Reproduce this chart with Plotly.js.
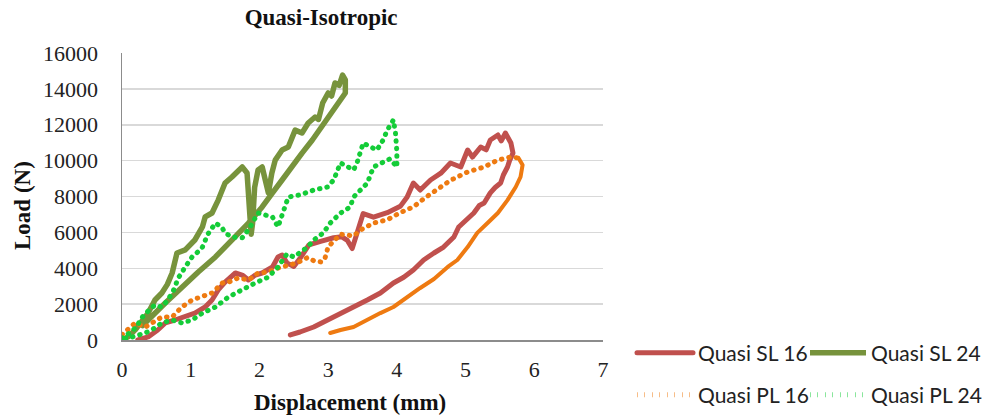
<!DOCTYPE html>
<html>
<head>
<meta charset="utf-8">
<script src="https://cdn.plot.ly/plotly-3.0.1.min.js"></script>
<style>
html,body{margin:0;padding:0;background:#fff;}
#chart{width:988px;height:416px;}
.scatterlayer .js-line, .legend .js-line {stroke-linecap: round; stroke-linejoin: round;}
</style>
</head>
<body>
<div id="chart"></div>
<script>
// Quasi SL 16 (loading + unloading)
const sl16X = [0.23,0.38,0.52,0.63,0.77,0.92,1.06,1.21,1.31,1.40,1.50,1.65,1.75,1.84,1.94,2.04,2.19,2.27,2.33,2.40,2.50,2.60,2.72,2.89,3.08,3.20,3.28,3.35,3.45,3.51,3.66,3.76,3.86,4.05,4.15,4.24,4.34,4.49,4.64,4.78,4.93,5.03,5.10,5.22,5.30,5.36,5.47,5.52,5.58,5.66,5.69,5.64,5.61,5.55,5.51,5.43,5.36,5.27,5.20,5.12,4.97,4.90,4.83,4.68,4.54,4.45,4.39,4.24,4.10,3.95,3.86,3.76,3.57,3.37,3.18,2.99,2.79,2.59,2.45];
const sl16Y = [0,170,560,950,1115,1280,1500,1840,2230,2790,3230,3735,3620,3345,3620,3735,4070,4630,4740,4300,4100,4600,5300,5500,5700,5750,5550,5100,6300,7050,6850,6950,7100,7450,7970,8750,8360,8920,9300,9870,9645,10590,10200,10760,10600,11150,11430,11100,11540,10980,10420,10000,9645,9200,8750,8500,8200,7640,7500,7080,6520,6300,5740,5180,4850,4600,4460,3900,3500,3180,2950,2620,2230,1840,1500,1115,725,446,280];

// Quasi SL 24 (loading + unloading)
const sl24X = [0.00,0.10,0.19,0.29,0.38,0.48,0.58,0.66,0.73,0.80,0.92,1.06,1.17,1.21,1.31,1.40,1.46,1.50,1.60,1.75,1.82,1.84,1.86,1.88,1.90,1.93,1.98,2.04,2.08,2.13,2.18,2.23,2.33,2.42,2.52,2.62,2.71,2.81,2.86,2.92,3.00,3.05,3.10,3.16,3.21,3.25,3.25,3.21,3.06,2.92,2.77,2.62,2.48,2.33,2.19,2.04,1.84,1.60,1.36,1.11,0.87,0.63,0.38,0.30];
const sl24Y = [0,200,560,1115,1500,2230,2620,3100,3735,4850,5020,5575,6300,6860,7080,7800,8360,8750,9090,9645,9310,8530,7000,5900,6500,8500,9480,9645,8920,8200,9300,10030,10590,10760,11700,11540,12100,12430,12300,13210,13770,13600,14330,14200,14770,14500,13770,13550,12650,11870,11150,10420,9645,8920,8200,7415,6520,5575,4630,3790,2950,2060,1115,800];

// Quasi PL 16 loading (dotted) and unloading
const pl16LoadX = [0.00,0.07,0.19,0.34,0.45,0.58,0.73,0.87,1.02,1.17,1.31,1.46,1.55,1.69,1.84,1.98,2.13,2.27,2.42,2.55,2.70,2.80,2.90,2.95,3.00,3.08,3.18,3.37,3.47,3.66,3.86,4.05,4.24,4.40,4.54,4.78,5.03,5.27,5.47,5.66,5.77];
const pl16LoadY = [300,560,950,725,1000,1280,1280,1840,2230,2400,2620,3180,3230,3460,3345,3735,3790,4010,4180,4300,4600,4400,4350,4500,5200,5500,5900,5800,6130,6520,6700,7100,7420,7900,8300,8900,9370,9645,10030,10200,10150];
const pl16UnloadX = [5.77,5.83,5.80,5.73,5.61,5.47,5.32,5.17,5.03,4.88,4.74,4.54,4.34,4.15,3.95,3.76,3.57,3.37,3.18,3.03];
const pl16UnloadY = [10150,9760,9090,8530,7800,7080,6520,5970,5180,4460,4070,3400,2900,2350,1840,1500,1115,725,560,390];

// Quasi PL 24 (loading + unloading)
const pl24X = [0.00,0.07,0.15,0.22,0.30,0.40,0.48,0.58,0.66,0.74,0.82,0.92,1.02,1.10,1.17,1.25,1.36,1.45,1.50,1.60,1.75,1.85,1.98,2.10,2.19,2.27,2.35,2.42,2.60,2.79,2.99,3.08,3.18,3.28,3.37,3.42,3.51,3.62,3.71,3.80,3.86,3.95,3.98,4.00,4.00,3.90,3.76,3.66,3.57,3.47,3.37,3.32,3.18,3.03,2.93,2.79,2.70,2.50,2.40,2.27,2.13,1.94,1.75,1.55,1.36,1.17,1.02,0.87,0.73,0.58,0.48,0.34,0.15,0.05];
const pl24Y = [100,250,500,800,1300,1700,1950,1840,2200,2680,3460,4070,4630,4900,5180,5900,6520,6300,5970,5740,5700,6200,7080,6950,6860,6300,7300,7970,8100,8360,8530,8920,9870,9645,9480,9870,10980,10760,10590,11150,11700,12265,11540,10500,9650,10100,9870,9645,8750,8360,7970,7415,7080,6520,5970,5575,5180,4630,4800,4070,3510,3180,2790,2400,1840,1500,1115,950,1115,950,670,390,170,100];

const xTicks = [0,1,2,3,4,5,6,7];
const yTicks = [0,2000,4000,6000,8000,10000,12000,14000,16000];

const cRed = '#C0504D', cOlive = '#77933C', cOrange = '#EE7A11', cGreen = '#14CC38';
const dotDash = '0.5px,7px';

const traces = [
  {x: sl16X, y: sl16Y, name: 'Quasi SL 16', mode: 'lines', line: {color: cRed, width: 5}, legend: 'legend'},
  {x: sl24X, y: sl24Y, name: 'Quasi SL 24', mode: 'lines', line: {color: cOlive, width: 5.5}, legend: 'legend2'},
  {x: pl16LoadX, y: pl16LoadY, name: 'Quasi PL 16', mode: 'lines', line: {color: cOrange, width: 5, dash: dotDash}, legend: 'legend3', legendgroup: 'pl16'},
  {x: pl16UnloadX, y: pl16UnloadY, name: 'Quasi PL 16', mode: 'lines', line: {color: cOrange, width: 4}, legend: 'legend3', legendgroup: 'pl16', showlegend: false},
  {x: pl24X, y: pl24Y, name: 'Quasi PL 24', mode: 'lines', line: {color: cGreen, width: 5, dash: dotDash}, legend: 'legend4'}
];

const serif = 'Liberation Serif, Times New Roman, serif';
const legFont = {family: 'Lato, Carlito, sans-serif', size: 21, color: '#222'};

function leg(xpx, ypx) {
  return {orientation: 'h', xref: 'container', yref: 'container', x: xpx/988, xanchor: 'left', y: 1-ypx/416, yanchor: 'middle',
          itemwidth: 56, font: legFont, bgcolor: 'rgba(0,0,0,0)', borderwidth: 0, tracegroupgap: 0};
}

const layout = {
  width: 988, height: 416,
  margin: {l: 122, r: 385, t: 53, b: 76, pad: 0, autoexpand: false},
  paper_bgcolor: '#fff', plot_bgcolor: '#fff',
  showlegend: true,
  title: {text: '<b>Quasi-Isotropic</b>', font: {family: serif, size: 23, color: '#111'}, xref: 'container', yref: 'container', x: 0.325, xanchor: 'center', y: 0.96, yanchor: 'middle'},
  xaxis: {range: [0, 7], tickvals: xTicks, ticktext: xTicks.map(String), showgrid: false, zeroline: false,
          showline: true, linecolor: '#8c8c8c', linewidth: 1.5, ticks: '', ticklabelstandoff: 9,
          tickfont: {family: serif, size: 22, color: '#222'}, fixedrange: true},
  yaxis: {range: [0, 16000], tickvals: yTicks, ticktext: yTicks.map(String), showgrid: true, gridcolor: '#d9d9d9', gridwidth: 1.5,
          zeroline: false, showline: true, linecolor: '#8c8c8c', linewidth: 1.5, ticks: '', ticklabelstandoff: 18,
          tickfont: {family: serif, size: 22, color: '#222'}, fixedrange: true},
  annotations: [
    {text: '<b>Displacement (mm)</b>', xref: 'paper', yref: 'paper', x: (350-122)/481, y: -(402-340)/287, xanchor: 'center', yanchor: 'middle', showarrow: false, font: {family: serif, size: 23, color: '#111'}},
    {text: '<b>Load (N)</b>', xref: 'paper', yref: 'paper', x: -(122-22)/481, y: (340-206)/287, textangle: -90, xanchor: 'center', yanchor: 'middle', showarrow: false, font: {family: serif, size: 23, color: '#111'}}
  ],
  legend: leg(632, 353),
  legend2: leg(805, 353),
  legend3: leg(632, 395),
  legend4: leg(805, 395)
};

Plotly.newPlot('chart', traces, layout, {staticPlot: true, displayModeBar: false});
</script>
</body>
</html>
